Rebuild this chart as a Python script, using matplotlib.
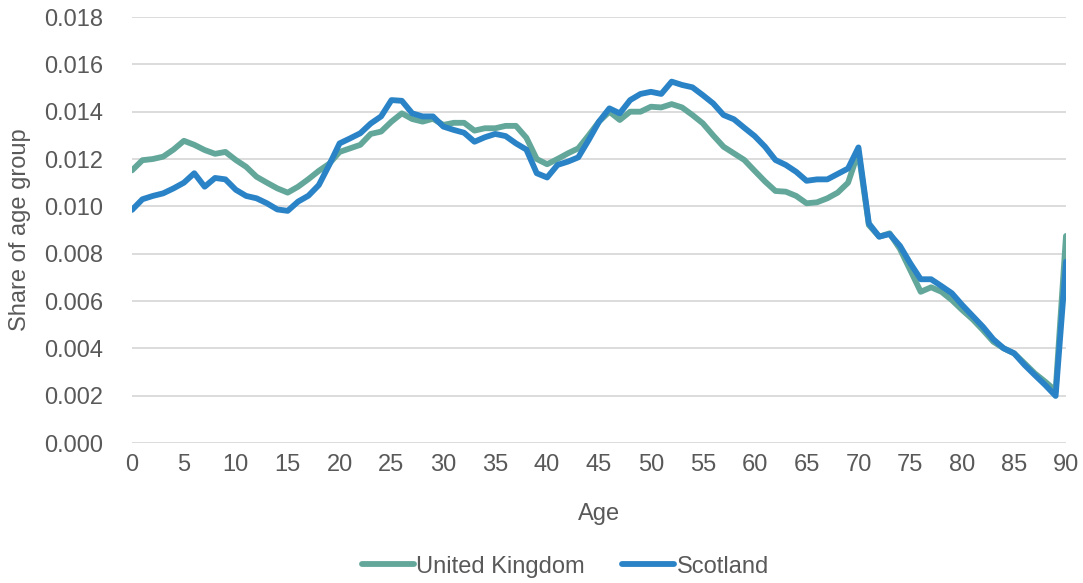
import matplotlib
matplotlib.use('Agg')
import matplotlib.pyplot as plt
import numpy as np

ages = np.arange(0, 91)

uk_share = [
    0.01152, 0.01195, 0.01200, 0.01210, 0.01240, 0.01277, 0.01260, 0.01238, 0.01222, 0.01230,
    0.01196, 0.01167, 0.01125, 0.01100, 0.01076, 0.01058, 0.01083, 0.01115, 0.01150, 0.01180,
    0.01230, 0.01245, 0.01260, 0.01306, 0.01316, 0.01358, 0.01393, 0.01369, 0.01358, 0.01370,
    0.01344, 0.01353, 0.01353, 0.01320, 0.01330, 0.01330, 0.01340, 0.01340, 0.01290, 0.01200,
    0.01178, 0.01200, 0.01224, 0.01245, 0.01300, 0.01358, 0.01400, 0.01365, 0.01400, 0.01400,
    0.01421, 0.01418, 0.01432, 0.01418, 0.01386, 0.01351, 0.01300, 0.01252, 0.01224, 0.01196,
    0.01150, 0.01105, 0.01065, 0.01062, 0.01044, 0.01013, 0.01017, 0.01034, 0.01058, 0.01100,
    0.01230, 0.00921, 0.00872, 0.00886, 0.00820, 0.00730, 0.00639, 0.00658, 0.00639, 0.00604,
    0.00562, 0.00523, 0.00477, 0.00428, 0.00400, 0.00379, 0.00337, 0.00294, 0.00259, 0.00221,
    0.00875,
]

scotland_share = [
    0.00985, 0.01030, 0.01044, 0.01055, 0.01076, 0.01100, 0.01140, 0.01083, 0.01120, 0.01114,
    0.01070, 0.01044, 0.01034, 0.01013, 0.00987, 0.00981, 0.01020, 0.01045, 0.01090, 0.01175,
    0.01266, 0.01287, 0.01309, 0.01350, 0.01380, 0.01449, 0.01446, 0.01393, 0.01380, 0.01380,
    0.01337, 0.01323, 0.01311, 0.01273, 0.01292, 0.01306, 0.01297, 0.01266, 0.01240, 0.01140,
    0.01122, 0.01175, 0.01189, 0.01207, 0.01280, 0.01358, 0.01414, 0.01393, 0.01449, 0.01475,
    0.01484, 0.01475, 0.01527, 0.01513, 0.01503, 0.01470, 0.01435, 0.01386, 0.01368, 0.01332,
    0.01297, 0.01252, 0.01196, 0.01175, 0.01146, 0.01108, 0.01114, 0.01114, 0.01137, 0.01160,
    0.01249, 0.00928, 0.00872, 0.00883, 0.00833, 0.00759, 0.00692, 0.00692, 0.00663, 0.00633,
    0.00583, 0.00537, 0.00491, 0.00438, 0.00400, 0.00379, 0.00330, 0.00287, 0.00245, 0.00199,
    0.00766,
]

x_ticks = np.arange(0, 91, 5)
y_ticks = np.arange(0, 0.0181, 0.002)

text_grey = '#595959'
plt.rcParams['font.family'] = ['Liberation Sans', 'DejaVu Sans']

fig = plt.figure(figsize=(10.83, 5.83), dpi=100)
ax = fig.add_axes([0.1219, 0.2401, 0.8624, 0.7307])

ax.plot(ages, uk_share, color='#63A79B', lw=4.2, label='United Kingdom',
        solid_joinstyle='round', solid_capstyle='round')
ax.plot(ages, scotland_share, color='#2A83C6', lw=4.2, label='Scotland',
        solid_joinstyle='round', solid_capstyle='round')

ax.set_xlim(0, 90)
ax.set_ylim(0, 0.018)
ax.set_xticks(x_ticks)
ax.set_yticks(y_ticks)
ax.set_yticklabels(['{:.3f}'.format(v) for v in y_ticks])
ax.grid(axis='y', color='#D9D9D9', lw=1.3)
ax.set_axisbelow(True)
for s in ax.spines.values():
    s.set_visible(False)
ax.tick_params(axis='both', length=0, labelsize=17, colors=text_grey)
ax.tick_params(axis='y', pad=21)
ax.tick_params(axis='x', pad=8)

ax.set_xlabel('Age', fontsize=17, color=text_grey, labelpad=19)
ax.set_ylabel('Share of age group', fontsize=17, color=text_grey, labelpad=9)

fig.legend(loc='center', bbox_to_anchor=(0.522, 0.028), ncol=2, frameon=False,
           fontsize=17, labelcolor=text_grey, handlelength=2.2, handletextpad=0.1,
           columnspacing=1.6)

plt.savefig('out.png', dpi=100)
